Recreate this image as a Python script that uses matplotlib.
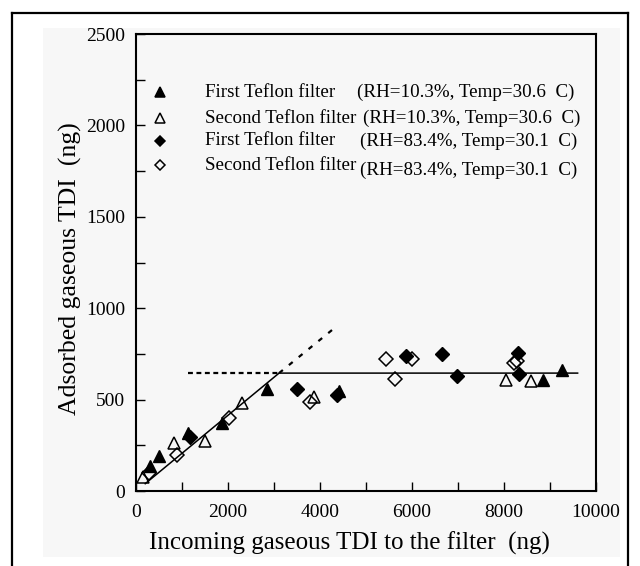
import matplotlib
matplotlib.use("Agg")
import matplotlib.pyplot as plt
from matplotlib.lines import Line2D
from matplotlib.patches import Rectangle

plt.rcParams['font.family'] = ['Liberation Serif', 'DejaVu Serif']

# First Teflon filter, RH=10.3% (filled triangles)
x_first_dry = [300, 500, 1130, 1860, 2850, 4420, 8850, 9270]
y_first_dry = [138, 190, 316, 372, 558, 548, 607, 660]

# Second Teflon filter, RH=10.3% (open triangles)
x_second_dry = [160, 830, 1490, 2310, 3870, 8040, 8580]
y_second_dry = [75, 262, 274, 484, 516, 607, 600]

# First Teflon filter, RH=83.4% (filled diamonds)
x_first_wet = [1180, 3500, 4370, 5870, 6650, 6970, 8300, 8330]
y_first_wet = [293, 558, 523, 737, 752, 629, 755, 640]

# Second Teflon filter, RH=83.4% (open diamonds)
x_second_wet = [290, 890, 2020, 3790, 5430, 5620, 6010, 8220, 8280]
y_second_wet = [97, 198, 402, 488, 722, 615, 722, 700, 712]

# breakthrough lines
fit_x = [200, 3110, 9600]
fit_y = [40, 645, 645]
plateau_ext_x = [1130, 3110]
plateau_ext_y = [645, 645]
slope_ext_x = [3110, 4380]
slope_ext_y = [645, 905]

legend_names = ['First Teflon filter', 'Second Teflon filter',
                'First Teflon filter', 'Second Teflon filter']
legend_conds = ['(RH=10.3%, Temp=30.6  C)', '(RH=10.3%, Temp=30.6  C)',
                '(RH=83.4%, Temp=30.1  C)', '(RH=83.4%, Temp=30.1  C)']

fig = plt.figure(figsize=(6.4, 5.66), dpi=100)
fig.patch.set_facecolor('white')

# light grey panel behind the plot and outer frame
fig.add_artist(Rectangle((0.067, 0.016), 0.9016, 0.9346, transform=fig.transFigure,
                         facecolor='#f7f7f7', edgecolor='none', zorder=0))
for xs, ys in [([0.018, 0.018], [0.0, 0.977]),
               ([0.018, 0.981], [0.977, 0.977]),
               ([0.981, 0.981], [0.977, 0.0])]:
    fig.add_artist(Line2D(xs, ys, transform=fig.transFigure, color='black', lw=1.6))

ax = fig.add_axes([0.2125, 0.1325, 0.7188, 0.8074])
ax.set_facecolor('#f7f7f7')

ax.plot(fit_x, fit_y, color='black', lw=1.1, zorder=2)
ax.plot(plateau_ext_x, plateau_ext_y, color='black', lw=1.6, ls=(0, (2.2, 1.6)), zorder=2)
ax.plot(slope_ext_x, slope_ext_y, color='black', lw=1.6, ls=(0, (2.2, 3.5)), zorder=2)

ms = 9
ax.plot(x_first_dry, y_first_dry, '^', ms=ms, mfc='black', mec='black', ls='none', zorder=3)
ax.plot(x_second_dry, y_second_dry, '^', ms=ms, mfc='none', mec='black', mew=1.1, ls='none', zorder=3)
ax.plot(x_first_wet, y_first_wet, 'D', ms=7, mfc='black', mec='black', ls='none', zorder=3)
ax.plot(x_second_wet, y_second_wet, 'D', ms=7, mfc='none', mec='black', mew=1.1, ls='none', zorder=3)

# legend drawn by hand
leg_markers = [('^', 'black', 7), ('^', 'none', 7), ('D', 'black', 5.5), ('D', 'none', 5.5)]
leg_rows = [0.873, 0.816, 0.766, 0.713]
cond_x = [0.480, 0.493, 0.487, 0.487]
cond_dy = [0, 0, 0, -0.012]
for i in range(4):
    m, fc, s = leg_markers[i]
    ax.plot([0.052], [leg_rows[i]], m, ms=s, mfc=fc, mec='black', mew=1.1,
            transform=ax.transAxes, zorder=4)
    ax.text(0.15, leg_rows[i], legend_names[i], transform=ax.transAxes,
            fontsize=13.7, va='center', ha='left')
    ax.text(cond_x[i], leg_rows[i] + cond_dy[i], legend_conds[i], transform=ax.transAxes,
            fontsize=13.7, va='center', ha='left')

ax.set_xlim(0, 10000)
ax.set_ylim(0, 2500)
ax.set_xticks(range(0, 10001, 2000))
ax.set_xticks(range(0, 10001, 1000), minor=True)
ax.set_yticks(range(0, 2501, 500))
ax.set_yticks(range(0, 2501, 250), minor=True)
ax.tick_params(which='both', direction='in', length=6.5, width=1.0)
ax.tick_params(axis='x', which='major', labelsize=14, pad=9)
ax.tick_params(axis='y', which='major', labelsize=14, pad=8)
for sp in ax.spines.values():
    sp.set_linewidth(1.5)

ax.set_xlabel('Incoming gaseous TDI to the filter  (ng)', fontsize=18, va='center')
ax.set_ylabel('Adsorbed gaseous TDI  (ng)', fontsize=18.5, va='center')
ax.xaxis.set_label_coords(0.465, -0.114)
ax.yaxis.set_label_coords(-0.143, 0.486)

fig.savefig('out.png', dpi=100, facecolor=fig.get_facecolor())
